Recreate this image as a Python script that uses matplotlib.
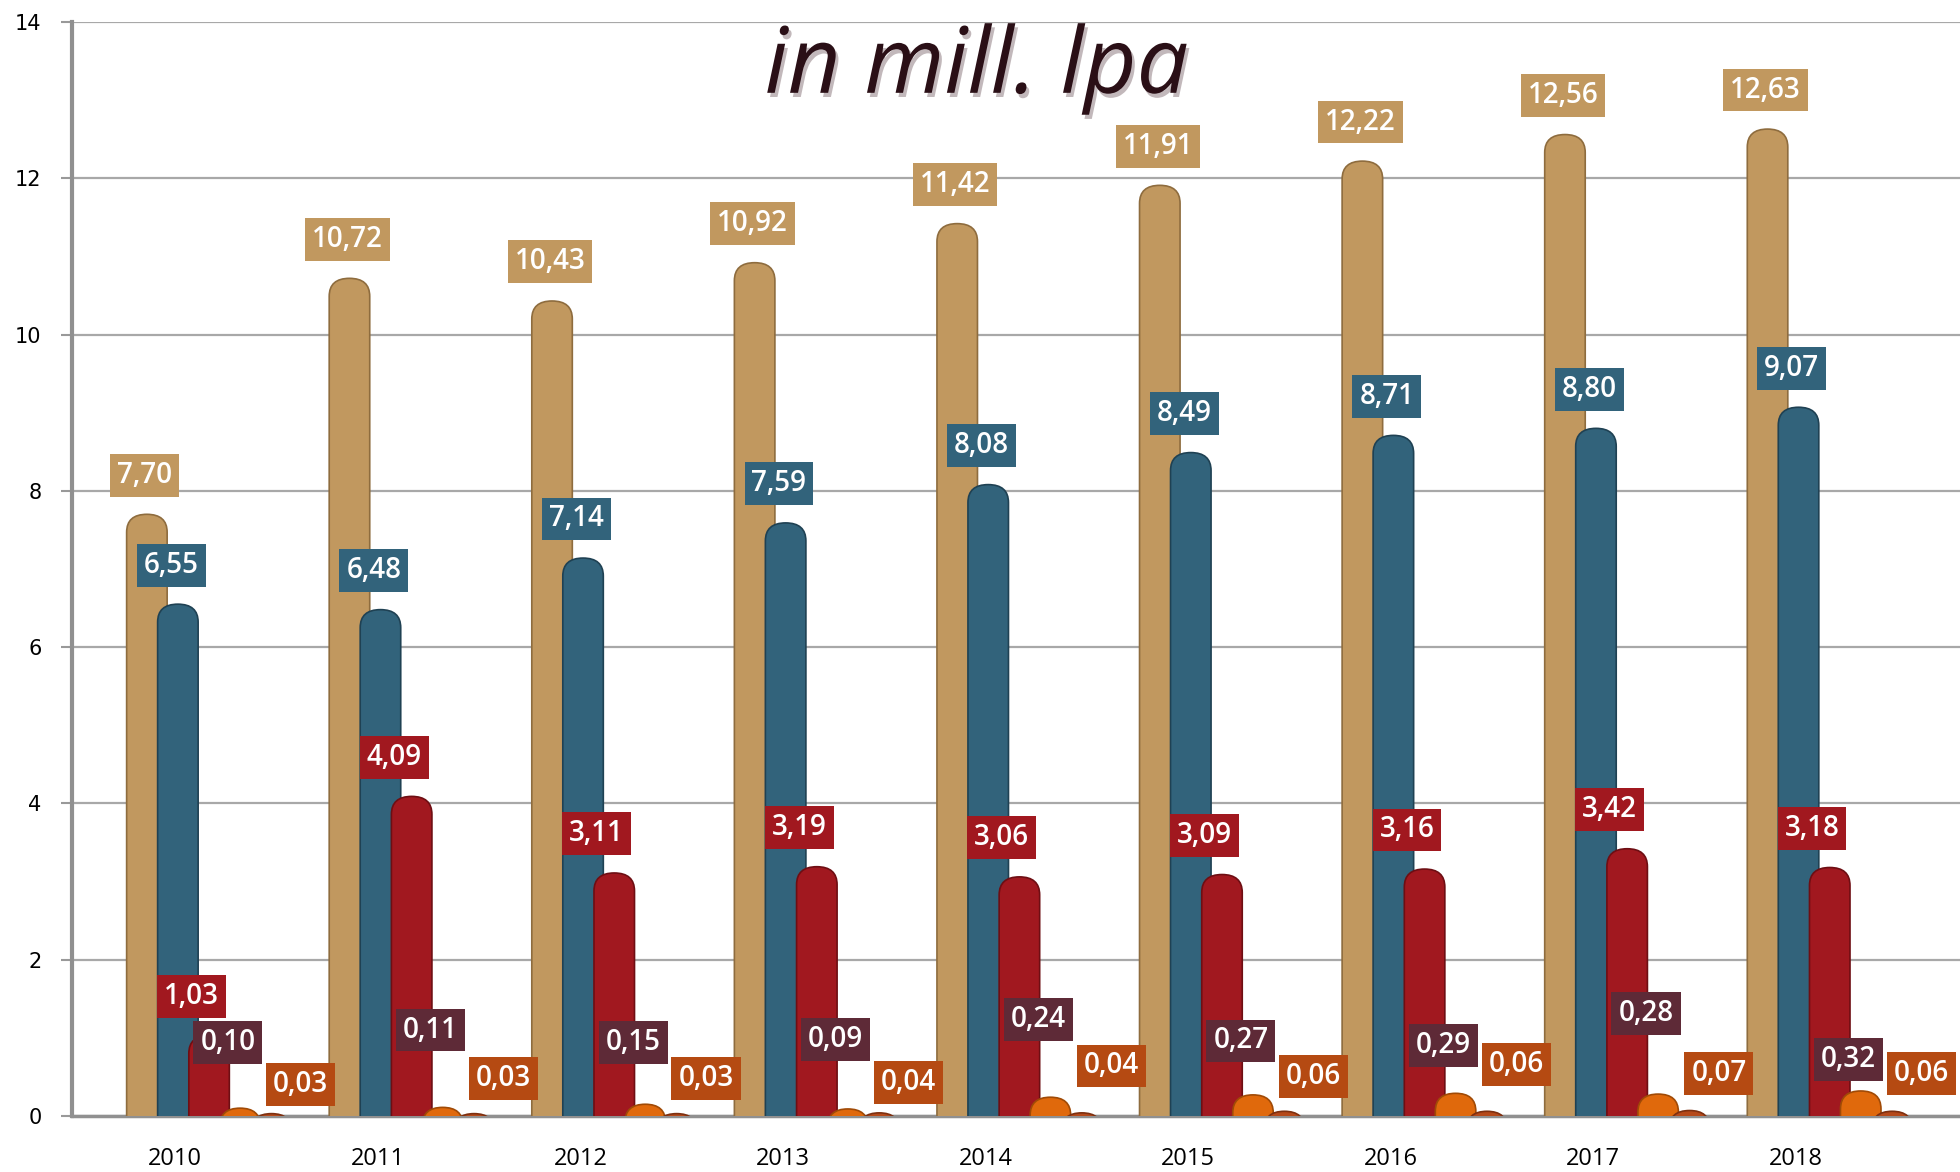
"""Grouped cylinder-style bar chart, values in mill. lpa, 2010-2018."""
import matplotlib

matplotlib.use("Agg")
import matplotlib.pyplot as plt
import matplotlib.patheffects as pe
from matplotlib.patches import FancyBboxPatch, BoxStyle

YEARS = ["2010", "2011", "2012", "2013", "2014", "2015", "2016", "2017", "2018"]
S1 = [7.70, 10.72, 10.43, 10.92, 11.42, 11.91, 12.22, 12.56, 12.63]
S2 = [6.55, 6.48, 7.14, 7.59, 8.08, 8.49, 8.71, 8.80, 9.07]
S3 = [1.03, 4.09, 3.11, 3.19, 3.06, 3.09, 3.16, 3.42, 3.18]
S4 = [0.10, 0.11, 0.15, 0.09, 0.24, 0.27, 0.29, 0.28, 0.32]
S5 = [0.03, 0.03, 0.03, 0.04, 0.04, 0.06, 0.06, 0.07, 0.06]
SERIES = [S1, S2, S3, S4, S5]

# label placement for the two small series
LABEL_Y4 = [0.94, 1.10, 0.94, 0.98, 1.23, 0.96, 0.90, 1.31, 0.72]
LABEL_Y5 = [0.40, 0.48, 0.48, 0.43, 0.64, 0.51, 0.66, 0.54, 0.54]

BAR_COLORS = ["#C1985F", "#32637B", "#A1181F", "#E0690C", "#B5491A"]
EDGE_COLORS = ["#8E6C3E", "#1F4153", "#6E0E13", "#A04A06", "#7E3010"]
LABEL_COLORS = ["#C1985F", "#32637B", "#A1181F", "#5E2A37", "#B54A12"]
OFFSETS = [-0.14, 0.013, 0.167, 0.32, 0.475]
LABEL_DX = [-0.15, -0.02, 0.08, 0.26, 0.62]
WIDTH = 0.2
CAP_ASPECT = 2.3

fig = plt.figure(figsize=(19.6, 11.72), dpi=100)
ax = fig.add_axes([0.0367, 0.0478, 0.9633, 0.9334])
ax.set_xlim(-0.51, 8.81)
ax.set_ylim(0, 14)

x = list(range(len(YEARS)))
for k, vals in enumerate(SERIES):
    bars = ax.bar([i + OFFSETS[k] for i in x], vals, width=WIDTH, color=BAR_COLORS[k])
    for rect in bars:
        x0, w, h = rect.get_x(), rect.get_width(), rect.get_height()
        rect.remove()
        # rounded (cylinder-like) top; bottom hidden below the axis
        p = FancyBboxPatch(
            (x0, -0.5), w, h + 0.5,
            boxstyle=BoxStyle.Round(pad=0, rounding_size=w / 2),
            mutation_aspect=CAP_ASPECT,
            fc=BAR_COLORS[k], ec=EDGE_COLORS[k], lw=1.2, zorder=3 + k,
        )
        ax.add_patch(p)

label_font = dict(family=["Open Sans", "DejaVu Sans"], fontsize=20, weight="semibold",
                  color="white", ha="center", va="center")
for k, vals in enumerate(SERIES):
    for i, v in enumerate(vals):
        if k == 3:
            ly = LABEL_Y4[i]
        elif k == 4:
            ly = LABEL_Y5[i]
        else:
            ly = v + 0.5
        ax.text(i + LABEL_DX[k], ly, f"{v:.2f}".replace(".", ","), zorder=20,
                bbox=dict(boxstyle="square,pad=0.25", fc=LABEL_COLORS[k], ec="none"),
                **label_font)

ax.set_yticks(range(0, 15, 2))
ax.set_yticklabels([str(t) for t in range(0, 15, 2)], fontsize=15,
                   family=["DejaVu Sans"])
ax.set_xticks(x)
ax.set_xticklabels(YEARS, fontsize=17, family=["Open Sans", "DejaVu Sans"])
ax.tick_params(axis="x", length=0, pad=22)
ax.tick_params(axis="y", length=8, width=1.5, color="#999999", pad=14, direction="out")
ax.grid(axis="y", color="#A8A8A8", lw=1.6, zorder=0)
ax.set_axisbelow(True)
for side in ["top", "right"]:
    ax.spines[side].set_visible(False)
ax.spines["left"].set_color("#909090")
ax.spines["left"].set_linewidth(3)
ax.spines["bottom"].set_color("#909090")
ax.spines["bottom"].set_linewidth(2.5)

# title (second line; the first line is cut off in the original)
ax.text(0.479, 0.957, "in mill. lpa", transform=ax.transAxes,
        fontsize=66, style="italic", color="#2A0F16", ha="center", va="center",
        family=["Open Sans", "DejaVu Sans"], zorder=25,
        path_effects=[pe.withSimplePatchShadow(offset=(2, -3), shadow_rgbFace="#9A8A8E",
                                               alpha=0.6)])

fig.savefig("out.png", dpi=100)
